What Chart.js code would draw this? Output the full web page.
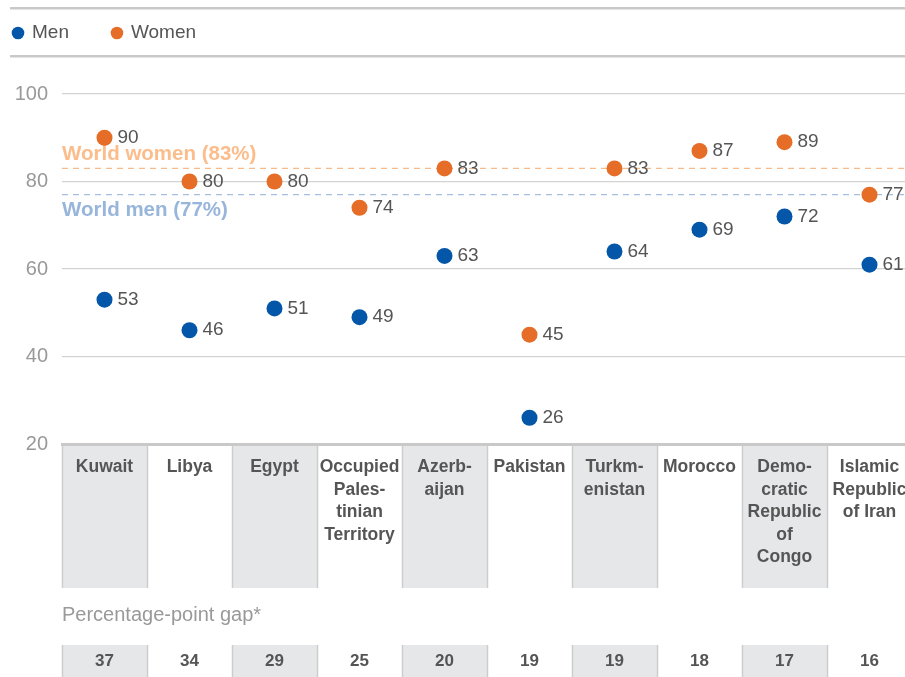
<!DOCTYPE html>
<html>
<head>
<meta charset="utf-8">
<script src="https://cdn.jsdelivr.net/npm/chart.js@4/dist/chart.umd.min.js"></script>
<style>
  html, body { margin: 0; padding: 0; background: #fff; overflow: hidden; }
  canvas { display: block; }
</style>
</head>
<body>
<!-- a bit wider than the window: the reference crops the last column at the right edge -->
<canvas id="gapChart" width="912" height="677"></canvas>
<script>
// Data
const countries = [
    "Kuwait",
    "Libya",
    "Egypt",
    ["Occupied", "Pales-", "tinian", "Territory"],
    ["Azerb-", "aijan"],
    "Pakistan",
    ["Turkm-", "enistan"],
    "Morocco",
    ["Demo-", "cratic", "Republic", "of", "Congo"],
    ["Islamic", "Republic", "of Iran"]
];
const menValues = [53, 46, 51, 49, 63, 26, 64, 69, 72, 61];
const womenValues = [90, 80, 80, 74, 83, 45, 83, 87, 89, 77];
const gapValues = [37, 34, 29, 25, 20, 19, 19, 18, 17, 16];
const worldWomen = 83;
const worldMen = 77;
const yMin = 20, yMax = 100, yStep = 20;

const FONT = "'Liberation Sans', Arial, Helvetica, sans-serif";
const MEN_COLOR = "#0456a8";
const WOMEN_COLOR = "#e66d27";
const TEXT = "#555555";
const RULE = "#c9c9c9";
const SHADE = "#e6e7e9";

// Header rules + legend, table shading, gap row, world lines, value labels
const decorations = {
    id: "decorations",
    beforeDraw(chart) {
        const { ctx, chartArea, scales: { x } } = chart;
        const n = countries.length;
        const colW = chartArea.width / n;
        ctx.save();

        // column shading in the label table and gap row
        for (let i = 0; i < n; i++) {
            const left = x.getPixelForValue(i) - colW / 2;
            if (i % 2 === 0) {
                ctx.fillStyle = SHADE;
                ctx.fillRect(left, chartArea.bottom, colW, 144);
                ctx.fillRect(left, 645, colW, 32);
            }
        }
        // dividers
        ctx.strokeStyle = "#cdcdcd";
        ctx.lineWidth = 1.5;
        for (let i = 0; i < n; i++) {
            const left = Math.round(x.getPixelForValue(i) - colW / 2) + 0.5;
            ctx.beginPath();
            ctx.moveTo(left, chartArea.bottom);
            ctx.lineTo(left, chartArea.bottom + 144);
            ctx.moveTo(left, 645);
            ctx.lineTo(left, 677);
            ctx.stroke();
        }

        // header rules
        ctx.fillStyle = RULE;
        ctx.fillRect(10, 7, chart.width - 10, 2.5);
        ctx.fillRect(10, 55, chart.width - 10, 2.5);

        // legend
        let lx = 18;
        ctx.font = "19px " + FONT;
        ctx.textBaseline = "middle";
        ctx.textAlign = "left";
        chart.data.datasets.forEach(ds => {
            ctx.fillStyle = ds.backgroundColor;
            ctx.beginPath();
            ctx.arc(lx, 33, 6.3, 0, Math.PI * 2);
            ctx.fill();
            ctx.fillStyle = TEXT;
            ctx.fillText(ds.label, lx + 14, 33);
            lx += 14 + ctx.measureText(ds.label).width + 48;
        });

        // gap caption and numbers
        ctx.fillStyle = "#999999";
        ctx.font = "20px " + FONT;
        ctx.fillText("Percentage-point gap*", chartArea.left, 615);
        ctx.fillStyle = TEXT;
        ctx.font = "bold 17px " + FONT;
        ctx.textAlign = "center";
        gapValues.forEach((g, i) => {
            ctx.fillText(String(g), x.getPixelForValue(i), 661);
        });
        ctx.restore();
    },
    beforeDatasetsDraw(chart) {
        const { ctx, chartArea, scales: { y } } = chart;
        ctx.save();
        ctx.setLineDash([6, 5]);
        ctx.lineWidth = 1.3;
        const yw = y.getPixelForValue(worldWomen);
        const ym = y.getPixelForValue(worldMen);
        ctx.strokeStyle = "#f6ba8b";
        ctx.beginPath();
        ctx.moveTo(chartArea.left, yw);
        ctx.lineTo(chartArea.right, yw);
        ctx.stroke();
        ctx.strokeStyle = "#a6bfe0";
        ctx.beginPath();
        ctx.moveTo(chartArea.left, ym);
        ctx.lineTo(chartArea.right, ym);
        ctx.stroke();
        ctx.setLineDash([]);

        ctx.font = "bold 20.5px " + FONT;
        ctx.textBaseline = "middle";
        ctx.textAlign = "left";
        ctx.fillStyle = "#fbbd8c";
        ctx.fillText(`World women (${worldWomen}%)`, chartArea.left, yw - 14);
        ctx.fillStyle = "#98b5dc";
        ctx.fillText(`World men (${worldMen}%)`, chartArea.left, ym + 16);
        ctx.restore();
    },
    afterDatasetsDraw(chart) {
        const { ctx } = chart;
        ctx.save();
        ctx.font = "19px " + FONT;
        ctx.fillStyle = TEXT;
        ctx.textBaseline = "middle";
        ctx.textAlign = "left";
        chart.data.datasets.forEach((ds, di) => {
            const meta = chart.getDatasetMeta(di);
            meta.data.forEach((pt, i) => {
                ctx.fillText(String(ds.data[i]), pt.x + 13, pt.y);
            });
        });
        ctx.restore();
    }
};

const ctx = document.getElementById("gapChart").getContext("2d");
new Chart(ctx, {
    type: "line",
    data: {
        labels: countries,
        datasets: [
            {
                label: "Men",
                data: menValues,
                backgroundColor: MEN_COLOR,
                borderColor: MEN_COLOR,
                showLine: false,
                pointRadius: 8,
                pointHoverRadius: 8,
                pointBorderWidth: 0
            },
            {
                label: "Women",
                data: womenValues,
                backgroundColor: WOMEN_COLOR,
                borderColor: WOMEN_COLOR,
                showLine: false,
                pointRadius: 8,
                pointHoverRadius: 8,
                pointBorderWidth: 0
            }
        ]
    },
    options: {
        responsive: false,
        animation: false,
        layout: { autoPadding: false, padding: { top: 94, left: 0, right: 0, bottom: 0 } },
        plugins: {
            legend: { display: false },
            tooltip: { enabled: false }
        },
        scales: {
            x: {
                type: "category",
                offset: true,
                afterFit: s => {
                    s.height = 233;
                    s.paddingLeft = 0;
                    s.paddingRight = 0;
                },
                grid: { display: false, drawTicks: false },
                border: { display: true, color: RULE, width: 3 },
                ticks: {
                    autoSkip: false,
                    maxRotation: 0,
                    minRotation: 0,
                    padding: 12,
                    color: TEXT,
                    font: { family: FONT, size: 17.5, weight: "bold", lineHeight: 1.29 }
                }
            },
            y: {
                min: yMin,
                max: yMax,
                afterFit: s => { s.width = 62; },
                grid: { color: "#d3d3d3", lineWidth: 1.2, drawTicks: false },
                border: { display: false },
                ticks: {
                    stepSize: yStep,
                    padding: 14,
                    color: "#999999",
                    font: { family: FONT, size: 20 }
                }
            }
        }
    },
    plugins: [decorations]
});
</script>
</body>
</html>
